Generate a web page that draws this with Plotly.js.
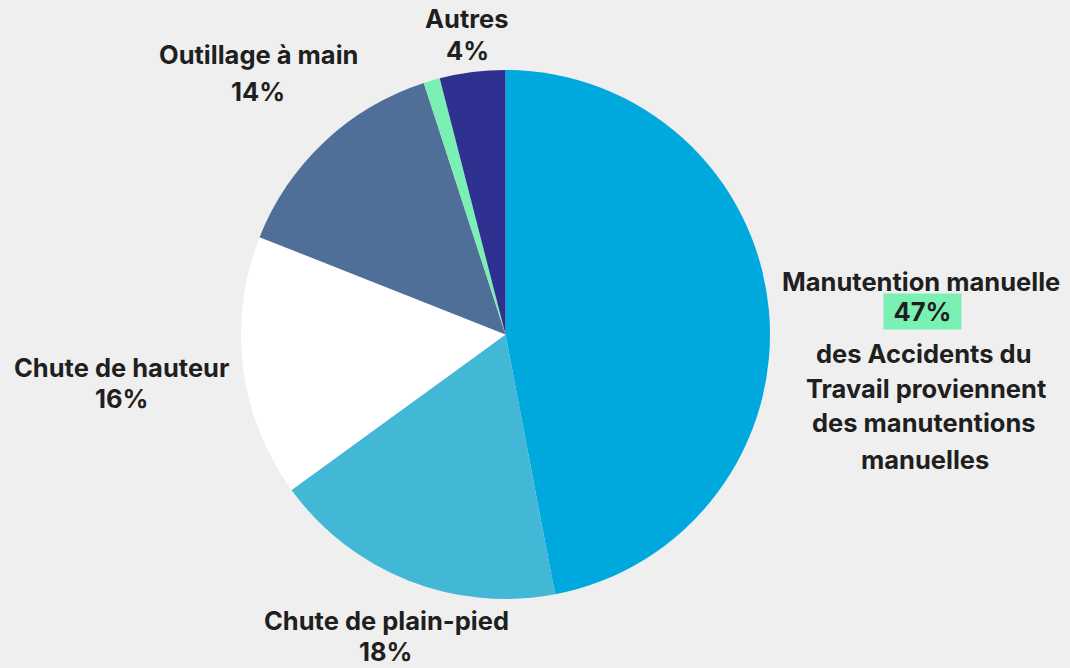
<!DOCTYPE html>
<html>
<head>
<meta charset="utf-8">
<script src="https://cdn.plot.ly/plotly-3.0.1.min.js"></script>
<style>html,body{margin:0;padding:0;background:#efefef;}#chart{width:1070px;height:668px;}</style>
</head>
<body>
<div id="chart"></div>
<script>
const categories = ["Manutention manuelle", "Chute de plain-pied", "Chute de hauteur", "Outillage à main", "Autre (vert)", "Autres"];
const values = [47, 18, 16, 14, 1, 4];
const sliceColors = ["#00a9dd", "#42b7d6", "#ffffff", "#4f6f99", "#7af0b4", "#2e3190"];
const pctLabels = ["47%", "18%", "16%", "14%", "", "4%"];
const noteLines = ["des Accidents du", "Travail proviennent", "des manutentions", "manuelles"];

const W = 1070, H = 668;
const L = 241, R = 770, T = 70, B = 599;
function px(x){ return (x - L) / (R - L); }
function py(y){ return (B - y) / (B - T); }

const font = {family: "Inter, 'Noto Sans', sans-serif", size: 25.5, color: "#1f1f1f", weight: 700};

function ann(text, x, y, extra){
  return Object.assign({text: text, x: px(x), y: py(y), xref: "paper", yref: "paper",
    showarrow: false, xanchor: "center", yanchor: "middle", font: font}, extra || {});
}

const annotations = [
  ann(categories[0], 921, 281),
  ann(pctLabels[0], 922.5, 311.5, {bgcolor: "#7af0b4", borderpad: 2, width: 73, height: 31}),
  ann(noteLines[0], 924, 353),
  ann(noteLines[1], 926, 388),
  ann(noteLines[2], 924, 423),
  ann(noteLines[3], 925, 459),
  ann(categories[1], 386, 620),
  ann(pctLabels[1], 386, 651),
  ann(categories[2], 121, 367),
  ann(pctLabels[2], 121, 399),
  ann(categories[3], 258, 55),
  ann(pctLabels[3], 258, 92),
  ann(categories[5], 467, 19),
  ann(pctLabels[5], 467, 50)
];

Plotly.newPlot("chart", [{
  type: "pie",
  labels: categories,
  values: values,
  marker: {colors: sliceColors, line: {width: 0}},
  sort: false,
  direction: "clockwise",
  rotation: 0,
  textinfo: "none",
  hoverinfo: "skip",
  showlegend: false
}], {
  width: W, height: H,
  paper_bgcolor: "#efefef",
  plot_bgcolor: "#efefef",
  margin: {l: L, r: W - R, t: T, b: H - B, pad: 0},
  showlegend: false,
  annotations: annotations
}, {displayModeBar: false, staticPlot: true});
</script>
</body>
</html>
